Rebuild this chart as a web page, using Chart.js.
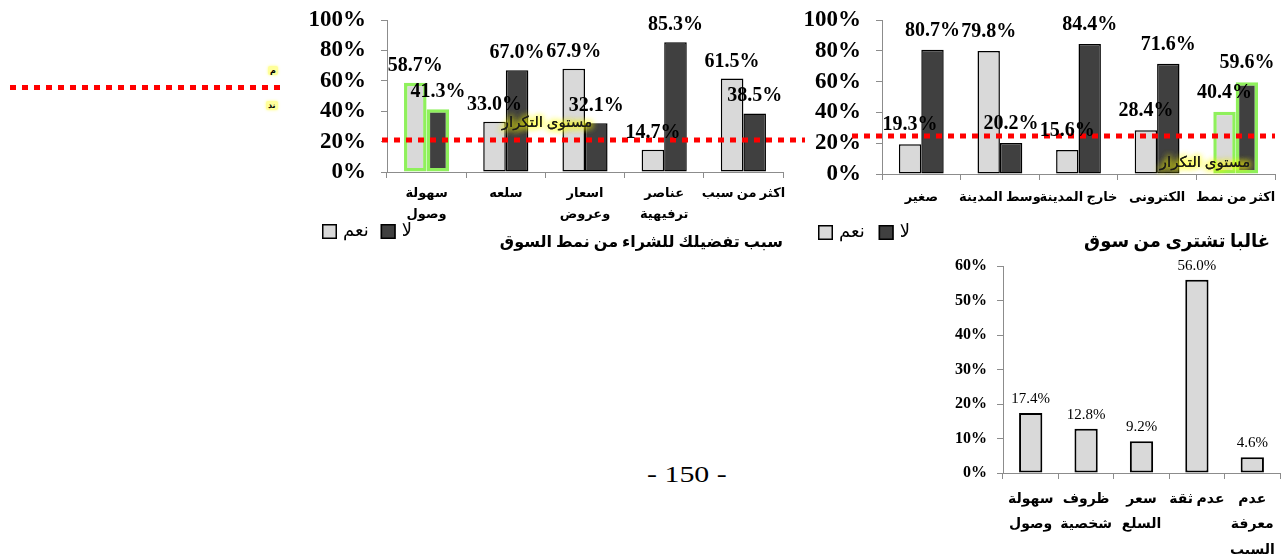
<!DOCTYPE html>
<html>
<head>
<meta charset="utf-8">
<script src="https://cdn.jsdelivr.net/npm/chart.js@4.4.0/dist/chart.umd.min.js"></script>
<style>
  html, body { margin: 0; padding: 0; background: #fff; }
  body { position: relative; width: 1287px; height: 555px; overflow: hidden; }
  canvas { position: absolute; }
  .dots { position: absolute; left: 10px; top: 85px; width: 274px; height: 5px;
          background: repeating-linear-gradient(to right, #ff0000 0 6px, transparent 6px 12px); }
  .tag { position: absolute; font: bold 8px "DejaVu Sans", sans-serif; line-height: 9px;
         background: #ffff9a; color: #000; padding: 0 2px; border-radius: 2px; box-shadow: 0 0 3px #ffff80; }
  .page { position: absolute; left: 647px; top: 462px; font: 23px "Liberation Serif", serif;
          transform: scaleX(1.3); transform-origin: left top; white-space: nowrap; }
</style>
</head>
<body>
<div class="dots"></div>
<div class="tag" style="left:268px;top:66px">م</div>
<div class="tag" style="left:266px;top:101px">ند</div>
<div class="page">- 150 -</div>

<canvas id="prefChart" width="520" height="260" style="left:290px;top:0"></canvas>
<canvas id="marketChart" width="492" height="260" style="left:795px;top:0"></canvas>
<canvas id="reasonChart" width="387" height="305" style="left:900px;top:250px"></canvas>

<script>
// ---- data ----
const seriesNames = ['نعم', 'لا'];
const levelText = 'مستوى التكرار';

const prefTitle = 'سبب تفضيلك للشراء من نمط السوق';
const prefCategories = [['سهولة', 'وصول'], 'سلعه', ['اسعار', 'وعروض'], ['عناصر', 'ترفيهية'], 'اكثر من سبب'];
const prefYes = [58.7, 33.0, 67.9, 14.7, 61.5];
const prefNo  = [41.3, 67.0, 32.1, 85.3, 38.5];
const prefLevel = 21;
const prefHighlight = 0;

const marketTitle = 'غالبا تشترى من سوق';
const marketCategories = ['صغير', 'وسط المدينة', 'خارج المدينة', 'الكترونى', 'اكثر من نمط'];
const marketYes = [19.3, 79.8, 15.6, 28.4, 40.4];
const marketNo  = [80.7, 20.2, 84.4, 71.6, 59.6];
const marketLevel = 24.7;
const marketHighlight = 4;

const reasonCategories = [['سهولة', 'وصول'], ['ظروف', 'شخصية'], ['سعر', 'السلع'], 'عدم ثقة', ['عدم', 'معرفة', 'السبب']];
const reasonValues = [17.4, 12.8, 9.2, 56.0, 4.6];

// ---- styling ----
const LIGHT = '#d9d9d9';
const DARK = '#404040';
const GREEN = '#8ff05c';
const AXIS = '#8c8c8c';
const SERIF = '"Liberation Serif", "DejaVu Sans", serif';

// value labels above each bar
const valueLabels = {
  id: 'valueLabels',
  afterDatasetsDraw(chart) {
    const o = chart.options.plugins.valueLabels;
    if (!o) return;
    const ctx = chart.ctx;
    ctx.save();
    ctx.font = o.font;
    ctx.fillStyle = '#000';
    ctx.textAlign = 'center';
    ctx.textBaseline = 'alphabetic';
    chart.data.datasets.forEach((ds, i) => {
      chart.getDatasetMeta(i).data.forEach((bar, j) => {
        ctx.fillText(ds.data[j].toFixed(1) + '%', bar.x, bar.y - o.gap);
      });
    });
    ctx.restore();
  }
};

// red dotted reference level with its highlighted caption
const levelLine = {
  id: 'levelLine',
  afterDatasetsDraw(chart) {
    const o = chart.options.plugins.levelLine;
    if (!o) return;
    const ctx = chart.ctx;
    const a = chart.chartArea;
    const y = chart.scales.y.getPixelForValue(o.value);
    ctx.save();
    ctx.strokeStyle = '#ff0000';
    ctx.lineWidth = 5;
    ctx.setLineDash([6, 6]);
    ctx.beginPath();
    ctx.moveTo(a.left - o.extendLeft, y);
    ctx.lineTo(a.right + o.extendRight, y);
    ctx.stroke();
    ctx.setLineDash([]);
    ctx.font = o.font;
    ctx.textAlign = 'center';
    ctx.textBaseline = 'middle';
    ctx.shadowColor = 'rgba(255,255,0,0.95)';
    ctx.shadowBlur = 7;
    ctx.fillStyle = '#1a1a1a';
    for (let k = 0; k < 3; k++) ctx.fillText(o.text, o.x, o.y);
    ctx.restore();
  }
};

// legend row and caption under the axis
const panelText = {
  id: 'panelText',
  afterDraw(chart) {
    const o = chart.options.plugins.panelText;
    if (!o) return;
    const ctx = chart.ctx;
    ctx.save();
    if (o.legend) {
      let x = o.legend.x;
      const y = o.legend.y;
      ctx.font = o.legend.font;
      ctx.textBaseline = 'middle';
      ctx.textAlign = 'left';
      chart.data.datasets.forEach(ds => {
        ctx.fillStyle = ds.backgroundColor;
        ctx.fillRect(x, y - 7, 15, 15);
        ctx.lineWidth = 1.5;
        ctx.strokeStyle = '#000';
        ctx.strokeRect(x + 0.75, y - 6.25, 13.5, 13.5);
        x += 15 + o.legend.gap;
        ctx.fillStyle = '#000';
        ctx.fillText(ds.label, x, y);
        x += ctx.measureText(ds.label).width + o.legend.spacing;
      });
    }
    if (o.title) {
      ctx.font = o.title.font;
      ctx.fillStyle = '#000';
      ctx.textAlign = 'right';
      ctx.textBaseline = 'middle';
      ctx.fillText(o.title.text, o.title.x, o.title.y);
    }
    ctx.restore();
  }
};

function outline(n, hi, base) {
  return Array.from({ length: n }, (_, i) => i === hi ? GREEN : base);
}
function outlineWidth(n, hi) {
  return Array.from({ length: n }, (_, i) => i === hi ? 3.5 : 1.5);
}

function axes(o) {
  return {
    x: {
      offset: true,
      grid: { display: true, offset: true, drawOnChartArea: false, tickLength: 6, color: AXIS },
      border: { color: AXIS, width: 1 },
      ticks: { autoSkip: false, maxRotation: 0, minRotation: 0, color: '#000',
               padding: o.xPad, font: o.xFont },
      afterFit(s) { s.height = o.xHeight; }
    },
    y: {
      min: 0, max: o.max,
      grid: { display: true, drawOnChartArea: false, tickLength: 6, color: AXIS },
      border: { color: AXIS, width: 1 },
      ticks: { stepSize: o.step, autoSkip: false, color: '#000', padding: o.yPad, font: o.yFont,
               callback: v => v + '%' },
      afterFit(s) { s.width = o.yWidth; }
    }
  };
}

Chart.defaults.animation = false;

// purchase-preference reasons
new Chart(document.getElementById('prefChart'), {
  type: 'bar',
  data: {
    labels: prefCategories,
    datasets: [
      { label: seriesNames[0], data: prefYes, backgroundColor: LIGHT,
        borderColor: outline(prefYes.length, prefHighlight, '#000'),
        borderWidth: outlineWidth(prefYes.length, prefHighlight), borderSkipped: false },
      { label: seriesNames[1], data: prefNo, backgroundColor: DARK,
        borderColor: outline(prefNo.length, prefHighlight, '#000'),
        borderWidth: outlineWidth(prefNo.length, prefHighlight), borderSkipped: false }
    ]
  },
  options: {
    responsive: false, devicePixelRatio: 1,
    categoryPercentage: 0.57, barPercentage: 1.0,
    layout: { padding: { left: 0, right: 27, top: 20, bottom: 0 } },
    scales: axes({ max: 100, step: 20, yWidth: 97, xHeight: 88, xPad: 6, yPad: 15,
                   yFont: { family: SERIF, size: 23, weight: 'bold', lineHeight: 0.25 },
                   xFont: { family: SERIF, size: 13, weight: 'bold', lineHeight: 1.55 } }),
    plugins: {
      legend: { display: false }, tooltip: { enabled: false },
      levelLine: { value: prefLevel, extendLeft: 5, extendRight: 22, text: levelText,
                   x: 257, y: 123, font: '15px ' + SERIF },
      valueLabels: { font: 'bold 20px ' + SERIF, gap: 12 },
      panelText: {
        legend: { x: 32, y: 231, font: '18px ' + SERIF, gap: 6, spacing: 12 },
        title: { text: prefTitle, x: 493, y: 243, font: 'bold 16px ' + SERIF }
      }
    }
  },
  plugins: [levelLine, valueLabels, panelText]
});

// usual market type
new Chart(document.getElementById('marketChart'), {
  type: 'bar',
  data: {
    labels: marketCategories,
    datasets: [
      { label: seriesNames[0], data: marketYes, backgroundColor: LIGHT,
        borderColor: outline(marketYes.length, marketHighlight, '#000'),
        borderWidth: outlineWidth(marketYes.length, marketHighlight), borderSkipped: false },
      { label: seriesNames[1], data: marketNo, backgroundColor: DARK,
        borderColor: outline(marketNo.length, marketHighlight, '#000'),
        borderWidth: outlineWidth(marketNo.length, marketHighlight), borderSkipped: false }
    ]
  },
  options: {
    responsive: false, devicePixelRatio: 1,
    categoryPercentage: 0.57, barPercentage: 1.0,
    layout: { padding: { left: 0, right: 12, top: 20, bottom: 0 } },
    scales: axes({ max: 100, step: 20, yWidth: 87, xHeight: 86, xPad: 8, yPad: 15,
                   yFont: { family: SERIF, size: 23, weight: 'bold', lineHeight: 0.25 },
                   xFont: { family: SERIF, size: 13, weight: 'bold', lineHeight: 1.55 } }),
    plugins: {
      legend: { display: false }, tooltip: { enabled: false },
      levelLine: { value: marketLevel, extendLeft: 30, extendRight: 0, text: levelText,
                   x: 410, y: 163, font: '15px ' + SERIF },
      valueLabels: { font: 'bold 20px ' + SERIF, gap: 14 },
      panelText: {
        legend: { x: 23, y: 232, font: '18px ' + SERIF, gap: 6, spacing: 14 },
        title: { text: marketTitle, x: 475, y: 242, font: 'bold 18px ' + SERIF }
      }
    }
  },
  plugins: [levelLine, valueLabels, panelText]
});

// reasons for not buying
new Chart(document.getElementById('reasonChart'), {
  type: 'bar',
  data: {
    labels: reasonCategories,
    datasets: [
      { label: seriesNames[0], data: reasonValues, backgroundColor: LIGHT,
        borderColor: '#000', borderWidth: 2, borderSkipped: false }
    ]
  },
  options: {
    responsive: false, devicePixelRatio: 1,
    categoryPercentage: 0.42, barPercentage: 1.0,
    layout: { padding: { left: 0, right: 7, top: 16, bottom: 0 } },
    scales: axes({ max: 60, step: 10, yWidth: 103, xHeight: 82, xPad: 8, yPad: 10,
                   yFont: { family: SERIF, size: 16, weight: 'bold', lineHeight: 0.25 },
                   xFont: { family: SERIF, size: 14, weight: 'bold', lineHeight: 1.8 } }),
    plugins: {
      legend: { display: false }, tooltip: { enabled: false },
      valueLabels: { font: '15px ' + SERIF, gap: 10 }
    }
  },
  plugins: [valueLabels]
});
</script>
</body>
</html>
